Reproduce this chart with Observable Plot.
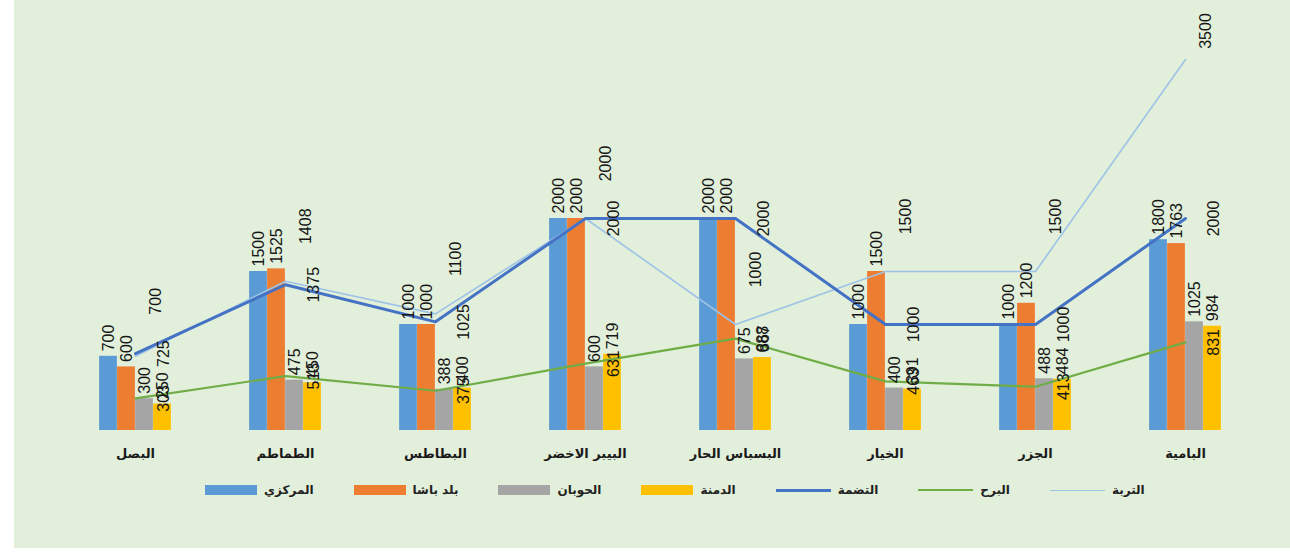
<!DOCTYPE html>
<html>
<head>
<meta charset="utf-8">
<script src="https://cdn.jsdelivr.net/npm/d3@7"></script>
<script src="https://cdn.jsdelivr.net/npm/@observablehq/plot@0.6"></script>
<style>
  body { margin:0; background:#fff; width:1290px; height:552px; overflow:hidden; position:relative; font-family:"DejaVu Sans", sans-serif; }
  #bg { position:absolute; left:14px; top:0; width:1276px; height:548px; background:#e2efda; }
  #chart { position:absolute; left:0; top:0; }
  #legend { position:absolute; top:483px; left:205px; display:flex; align-items:center; font-family:"DejaVu Sans", sans-serif; font-weight:bold; font-size:12px; color:#222; }
  .item { display:flex; align-items:center; margin-right:40px; }
  .sw { width:52px; height:10px; margin-right:7px; }
  .ln { width:55px; margin-right:7px; }
</style>
</head>
<body>
<div id="bg"></div>
<div id="chart"></div>
<div id="legend"></div>
<script>
const categories = ["البصل","الطماطم","البطاطس","البيبر الاخضر","البسباس الحار","الخيار","الجزر","البامية"];
const markazi    = [700, 1500, 1000, 2000, 2000, 1000, 1000, 1800];
const baladBasha = [600, 1525, 1000, 2000, 2000, 1500, 1200, 1763];
const hawban     = [300, 475, 388, 600, 675, 400, 488, 1025];
const damna      = [250, 450, 400, 719, 688, 391, 484, 984];
const tadama     = [725, 1375, 1025, 2000, 2000, 1000, 1000, 2000];
const barh       = [303, 513, 375, 631, 867, 463, 413, 831];
const turba      = [700, 1408, 1100, 2000, 1000, 1500, 1500, 3500];

const seriesNames = ["المركزي","بلد باشا","الحوبان","الدمنة","التضمة","البرح","التربة"];
const colors = ["#5b9bd5","#ed7d31","#a5a5a5","#ffc000","#4472c4","#70ad47","#9dc3e6"];

const rows = categories.map((c, i) => ({
  c, markazi: markazi[i], baladBasha: baladBasha[i], hawban: hawban[i], damna: damna[i],
  tadama: tadama[i], barh: barh[i], turba: turba[i]
}));

const W = 1290, H = 470, mL = 59, mR = 29;
const step = (W - mL - mR) / categories.length;
const bw = 18;
const half = step / 2;
const lblFont = "Liberation Sans, Arial, sans-serif";
const lblSize = 16;

function bar(key, k, color) {
  const left = half - 2 * bw + k * bw;
  return Plot.barY(rows, {x: "c", y: key, fill: color, insetLeft: left, insetRight: step - left - bw});
}
function barLabel(key, k) {
  return Plot.text(rows, {x: "c", y: key, text: d => String(d[key]), rotate: -90, textAnchor: "start",
    dx: -2 * bw + k * bw + bw / 2, dy: -5, fontSize: lblSize, fontFamily: lblFont, fill: "#151515"});
}

const chart = Plot.plot({
  width: W, height: H,
  marginLeft: mL, marginRight: mR, marginTop: 6, marginBottom: H - 430,
  style: {background: "transparent", overflow: "visible"},
  x: {type: "band", domain: categories, padding: 0},
  y: {domain: [0, 4000], axis: null},
  marks: [
    bar("markazi", 0, colors[0]),
    bar("baladBasha", 1, colors[1]),
    bar("hawban", 2, colors[2]),
    bar("damna", 3, colors[3]),
    Plot.line(rows, {x: "c", y: "turba", stroke: colors[6], strokeWidth: 1.6}),
    Plot.line(rows, {x: "c", y: "barh", stroke: colors[5], strokeWidth: 2.2}),
    Plot.line(rows, {x: "c", y: "tadama", stroke: colors[4], strokeWidth: 3}),
    barLabel("markazi", 0),
    barLabel("baladBasha", 1),
    barLabel("hawban", 2),
    barLabel("damna", 3),
    Plot.text(rows, {x: "c", y: "tadama", text: d => String(d.tadama), rotate: -90, textAnchor: "middle",
      dx: 28, fontSize: lblSize, fontFamily: lblFont, fill: "#151515"}),
    Plot.text(rows, {x: "c", y: "barh", text: d => String(d.barh), rotate: -90, textAnchor: "middle",
      dx: 28, fontSize: lblSize, fontFamily: lblFont, fill: "#151515"}),
    Plot.text(rows, {x: "c", y: d => Math.min(d.turba, 3250), text: d => String(d.turba), rotate: -90, textAnchor: "middle",
      dx: 20, dy: -55, fontSize: lblSize, fontFamily: lblFont, fill: "#151515"}),
    Plot.axisX({label: null, tickSize: 0, tickPadding: 18, fontSize: 13, fontWeight: "bold", fontFamily: "DejaVu Sans, sans-serif", fill: "#1a1a1a"})
  ]
});
document.getElementById("chart").appendChild(chart);

const legend = document.getElementById("legend");
seriesNames.forEach((name, i) => {
  const item = document.createElement("div");
  item.className = "item";
  const sw = document.createElement("div");
  if (i < 4) {
    sw.className = "sw";
    sw.style.background = colors[i];
  } else {
    sw.className = "ln";
    sw.style.height = "0";
    sw.style.borderTop = `${i === 4 ? 3 : i === 5 ? 2 : 1.6}px solid ${colors[i]}`;
  }
  const t = document.createElement("span");
  t.textContent = name;
  item.appendChild(sw);
  item.appendChild(t);
  legend.appendChild(item);
});
</script>
</body>
</html>
